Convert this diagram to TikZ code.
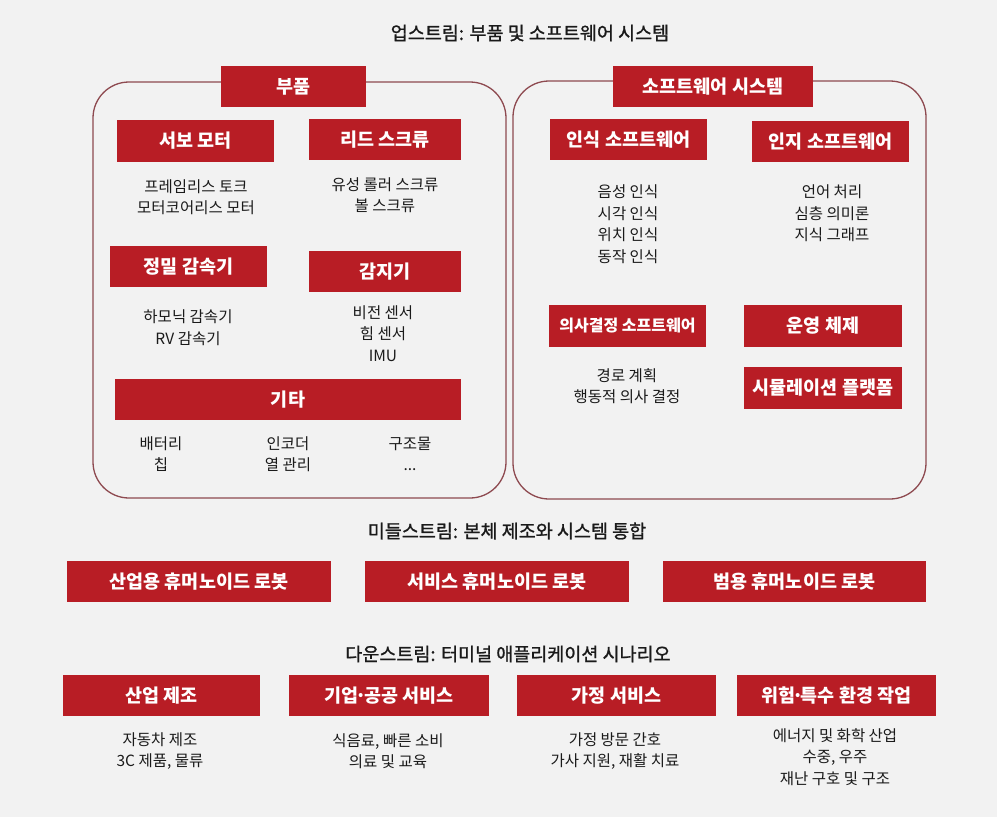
\documentclass[tikz,border=0pt]{standalone}
\usepackage{fontspec}
\setmainfont{Noto Sans CJK KR}
\newfontfamily\titlefont[FakeBold=1.2]{Noto Sans CJK KR}
\newcommand{\mdot}{\kern-0.16em·\kern-0.16em}
\definecolor{bgc}{HTML}{F2F2F2}
\definecolor{boxred}{HTML}{B81D25}
\definecolor{framec}{HTML}{8E4A50}
\definecolor{txt}{HTML}{1A1A1A}
\begin{document}
\begin{tikzpicture}[x=1pt,y=-1pt,
  rbox/.style={fill=boxred, text=white, inner sep=0pt, anchor=center,
    font=\bfseries\fontsize{18.5}{22}\selectfont, minimum height=41pt},
  body/.style={text=txt, align=center, inner sep=0pt, anchor=center,
    font=\fontsize{15.5}{21.6}\selectfont},
  ttl/.style={text=txt, inner sep=0pt, anchor=center,
    font=\titlefont\fontsize{18.5}{22}\selectfont},
  frame/.style={draw=framec, line width=1.3pt, rounded corners=36pt}]
\fill[bgc] (0,0) rectangle (997,817);
\useasboundingbox (0,0) rectangle (997,817);

% titles
\node[ttl] (t1) at (530,33) {업스트림: 부품 및 소프트웨어 시스템};
\node[ttl] (t2) at (507,531) {미들스트림: 본체 제조와 시스템 통합};
\node[ttl] (t3) at (508,654) {다운스트림: 터미널 애플리케이션 시나리오};

% frames
\draw[frame] (93,82) rectangle (506,498);
\draw[frame] (513,81) rectangle (926,499);

% parts
\node[rbox, minimum width=145pt] (parts) at (293.5,86.5) {부품};
\node[rbox, minimum width=157pt, minimum height=42pt] (servo) at (195.5,141) {서보 모터};
\node[rbox, minimum width=152pt] (lead) at (385,139.5) {리드 스크류};
\node[body] (servot) at (196,197) {프레임리스 토크\\모터코어리스 모터};
\node[body] (leadt) at (385,195) {유성 롤러 스크류\\볼 스크류};
\node[rbox, minimum width=157pt] (reducer) at (188.5,266.5) {정밀 감속기};
\node[rbox, minimum width=152pt] (sensor) at (385,271.5) {감지기};
\node[body] (reducert) at (188,327.5) {하모닉 감속기\\RV 감속기};
\node[body] (sensort) at (383,333.5) {비전 센서\\힘 센서\\IMU};
\node[rbox, minimum width=346pt] (other) at (288,399.5) {기타};
\node[body] (oth1) at (161,454) {배터리\\칩};
\node[body] (oth2) at (288,454) {인코더\\열 관리};
\node[body] (oth3) at (410,454) {구조물\\...};

% software
\node[rbox, minimum width=200pt] (soft) at (713,86.5) {소프트웨어 시스템};
\node[rbox, minimum width=157pt] (perc) at (628.5,139.5) {인식 소프트웨어};
\node[rbox, minimum width=157pt] (cogn) at (830.5,141.5) {인지 소프트웨어};
\node[body] (perct) at (628,224) {음성 인식\\시각 인식\\위치 인식\\동작 인식};
\node[body] (cognt) at (832,213.5) {언어 처리\\심층 의미론\\지식 그래프};
\node[rbox, minimum width=157pt, minimum height=42pt, font=\bfseries\fontsize{16}{19}\selectfont] (dec) at (627.5,326) {의사결정 소프트웨어};
\node[rbox, minimum width=158pt, minimum height=42pt] (os) at (823,326) {운영 체제};
\node[rbox, minimum width=158pt, minimum height=42pt] (sim) at (823,388) {시뮬레이션 플랫폼};
\node[body] (dect) at (627,386) {경로 계획\\행동적 의사 결정};

% midstream
\node[rbox, minimum width=264pt] (m1) at (199,581.5) {산업용 휴머노이드 로봇};
\node[rbox, minimum width=264pt] (m2) at (497,581.5) {서비스 휴머노이드 로봇};
\node[rbox, minimum width=263pt] (m3) at (794.5,581.5) {범용 휴머노이드 로봇};

% downstream
\node[rbox, minimum width=197pt] (d1) at (161.5,695.5) {산업 제조};
\node[rbox, minimum width=200pt] (d2) at (389,695.5) {기업\mdot 공공 서비스};
\node[rbox, minimum width=199pt] (d3) at (616.5,695.5) {가정 서비스};
\node[rbox, minimum width=199pt] (d4) at (836.5,695.5) {위험\mdot 특수 환경 작업};
\node[body] (d1t) at (160,751) {자동차 제조\\3C 제품, 물류};
\node[body] (d2t) at (388,751) {식음료, 빠른 소비\\의료 및 교육};
\node[body] (d3t) at (615,751) {가정 방문 간호\\가사 지원, 재활 치료};
\node[body] (d4t) at (835,757) {에너지 및 화학 산업\\수중, 우주\\재난 구호 및 구조};
\end{tikzpicture}
\end{document}
